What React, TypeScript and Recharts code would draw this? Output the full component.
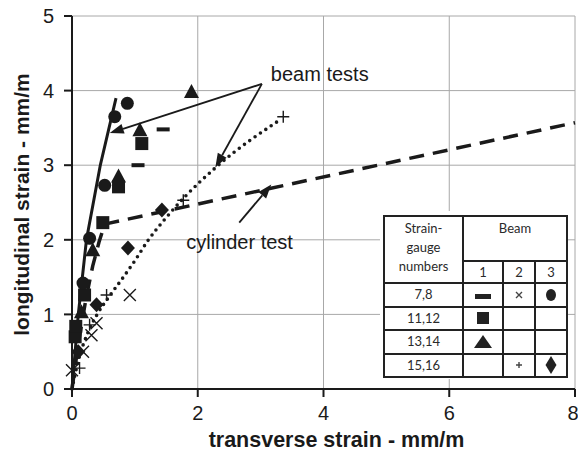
import React from 'react';
import {
  ComposedChart, Line, Scatter, XAxis, YAxis, CartesianGrid,
  ReferenceLine, ReferenceDot,
} from 'recharts';

// ---------- data ----------
const xTicks = [0, 2, 4, 6, 8];
const yTicks = [0, 1, 2, 3, 4, 5];

// curves [transverse, longitudinal]
const beamCurve = [[0, 0], [0.1, 1.0], [0.23, 2.0], [0.45, 3.0], [0.7, 3.9]];
const cylinderCurve = [[0, 0], [0.1, 0.6], [0.22, 1.2], [0.33, 1.65], [0.43, 1.97], [0.52, 2.21], [8, 3.57]];
const dottedCurve = [[0, 0], [0.1, 0.38], [0.25, 0.75], [0.4, 1.0], [0.6, 1.25], [0.8, 1.48], [1.0, 1.72], [1.2, 1.98], [1.5, 2.3], [1.8, 2.58], [2.3, 2.98], [3.33, 3.62]];

// markers
const dashPts = [[1.05, 3.0], [1.45, 3.48]];
const squarePts = [[0.05, 0.7], [0.06, 0.84], [0.2, 1.26], [0.49, 2.23], [0.74, 2.71], [1.11, 3.29]];
const trianglePts = [[0.15, 1.03], [0.33, 1.86], [0.74, 2.85], [1.08, 3.47], [1.9, 3.98]];
const crossPts = [[0, 0.25], [0.175, 0.5], [0.31, 0.72], [0.39, 0.88], [0.92, 1.26]];
const circlePts = [[0.175, 1.42], [0.28, 2.02], [0.52, 2.73], [0.68, 3.65], [0.88, 3.83]];
const plusPts = [[0.12, 0.28], [0.28, 0.86], [0.55, 1.26], [1.77, 2.53], [3.36, 3.65]];
const diamondPts = [[0.1, 0.5], [0.39, 1.13], [0.89, 1.89], [1.43, 2.4]];

// annotations
const beamArrows = [
  [[3.02, 4.09], [0.6, 3.43]],
  [[3.02, 4.09], [2.28, 2.97]],
];
const cylinderArrow = [[2.66, 2.23], [3.17, 2.74]];
const beamLabel = { text: 'beam tests', x: 3.94, y: 4.22 };
const cylinderLabel = { text: 'cylinder test', x: 2.665, y: 1.97 };

// legend table
const gaugeRows = ['7,8', '11,12', '13,14', '15,16'];
const beamCols = ['1', '2', '3'];
const legendSymbols = [
  ['dash', 'x', 'circle'],
  ['square', '', ''],
  ['triangle', '', ''],
  ['', 'plus', 'diamond'],
];

const toObj = (arr: number[][]) => arr.map(([x, y]) => ({ x, y }));

const INK = '#1a1a1a';
const FONT = '"Liberation Sans", Arial, sans-serif';

// ---------- shapes ----------
const DashShape = ({ cx, cy }: any) => <rect x={cx - 6.5} y={cy - 2} width={13} height={4} fill={INK} />;
const SquareShape = ({ cx, cy }: any) => <rect x={cx - 6.5} y={cy - 6.5} width={13} height={13} fill={INK} />;
const TriangleShape = ({ cx, cy }: any) => (
  <polygon points={`${cx},${cy - 8} ${cx + 7.5},${cy + 6} ${cx - 7.5},${cy + 6}`} fill={INK} />
);
const CircleShape = ({ cx, cy }: any) => <circle cx={cx} cy={cy} r={6.5} fill={INK} />;
const CrossShape = ({ cx, cy }: any) => (
  <path d={`M${cx - 6},${cy - 6}L${cx + 6},${cy + 6}M${cx - 6},${cy + 6}L${cx + 6},${cy - 6}`} stroke={INK} strokeWidth={1.4} />
);
const PlusShape = ({ cx, cy }: any) => (
  <path d={`M${cx - 6},${cy}L${cx + 6},${cy}M${cx},${cy - 6}L${cx},${cy + 6}`} stroke={INK} strokeWidth={1.4} />
);
const DiamondShape = ({ cx, cy }: any) => (
  <polygon points={`${cx},${cy - 7.5} ${cx + 7},${cy} ${cx},${cy + 7.5} ${cx - 7},${cy}`} fill={INK} />
);

const ArrowShape = (props: any) => {
  const { x1, y1, x2, y2 } = props;
  if ([x1, y1, x2, y2].some((v) => typeof v !== 'number' || isNaN(v))) return null;
  const ang = Math.atan2(y2 - y1, x2 - x1);
  const L = 14, W = 5;
  const bx = x2 - L * Math.cos(ang), by = y2 - L * Math.sin(ang);
  const p1 = `${bx + W * Math.sin(ang)},${by - W * Math.cos(ang)}`;
  const p2 = `${bx - W * Math.sin(ang)},${by + W * Math.cos(ang)}`;
  return (
    <g>
      <line x1={x1} y1={y1} x2={bx} y2={by} stroke={INK} strokeWidth={1.8} />
      <polygon points={`${x2},${y2} ${p1} ${p2}`} fill={INK} />
    </g>
  );
};

const AnnoText = (props: any) => {
  const { viewBox, text } = props;
  if (!viewBox) return null;
  const cx = viewBox.x + (viewBox.width || 0) / 2;
  const cy = viewBox.y + (viewBox.height || 0) / 2;
  return (
    <text x={cx} y={cy} dy="0.35em" textAnchor="middle" fontSize={20} fontFamily={FONT} fill={INK}>
      {text}
    </text>
  );
};

const XTitle = (props: any) => {
  const { viewBox } = props;
  if (!viewBox) return null;
  return (
    <text x={viewBox.x + viewBox.width / 2 + 13} y={viewBox.y + 58} textAnchor="middle"
      fontSize={21.5} fontWeight="bold" fontFamily={FONT} fill={INK}>
      transverse strain - mm/m
    </text>
  );
};

const YTitle = (props: any) => {
  const { viewBox } = props;
  if (!viewBox) return null;
  const cx = 22;
  const cy = viewBox.y + viewBox.height / 2 + 2;
  return (
    <text x={cx} y={cy} dy="0.35em" textAnchor="middle" transform={`rotate(-90 ${cx} ${cy})`}
      fontSize={21} fontWeight="bold" fontFamily={FONT} fill={INK}>
      longitudinal strain - mm/m
    </text>
  );
};

const LegendSymbol = ({ kind }: { kind: string }) => {
  const s = 20;
  const c = s / 2;
  let el: any = null;
  if (kind === 'dash') el = <rect x={c - 8} y={c - 1} width={16} height={5} fill="#222" />;
  if (kind === 'x') el = <path d={`M${c - 3},${c - 3}L${c + 3},${c + 3}M${c - 3},${c + 3}L${c + 3},${c - 3}`} stroke="#444" strokeWidth={1.4} />;
  if (kind === 'circle') el = <ellipse cx={c} cy={c} rx={5} ry={6} fill="#222" />;
  if (kind === 'square') el = <rect x={c - 6} y={c - 6} width={12} height={12} fill="#222" />;
  if (kind === 'triangle') el = <polygon points={`${c},${c - 7} ${c + 9},${c + 6} ${c - 9},${c + 6}`} fill="#222" />;
  if (kind === 'plus') el = <path d={`M${c - 3},${c}L${c + 3},${c}M${c},${c - 3}L${c},${c + 3}`} stroke="#444" strokeWidth={1.4} />;
  if (kind === 'diamond') el = <polygon points={`${c},${c - 9} ${c + 5.5},${c} ${c},${c + 9} ${c - 5.5},${c}`} fill="#222" />;
  return <svg width={s} height={s} style={{ display: 'block', margin: '0 auto' }}>{el}</svg>;
};

const cellBorder = '2px solid #222';
const tdBase: React.CSSProperties = {
  border: cellBorder, padding: 0, textAlign: 'center', verticalAlign: 'middle',
};

const LegendTable = () => (
  <div style={{ position: 'absolute', left: 380, top: 211, width: 188, height: 168, background: '#fff' }}>
    <table style={{
      position: 'absolute', left: 3, top: 4, width: 183, borderCollapse: 'collapse', tableLayout: 'fixed',
      fontFamily: 'Lato, "Open Sans", sans-serif', fontSize: 13, color: '#2a2a2a', lineHeight: '19px',
    }}>
      <colgroup>
        <col style={{ width: 79 }} />
        <col style={{ width: 40 }} />
        <col style={{ width: 32 }} />
        <col style={{ width: 32 }} />
      </colgroup>
      <tbody>
        <tr style={{ height: 45 }}>
          <td rowSpan={2} style={{ ...tdBase, verticalAlign: 'top', paddingTop: 2 }}>
            Strain-<br />gauge<br />numbers
          </td>
          <td colSpan={3} style={{ ...tdBase, verticalAlign: 'top', paddingTop: 2 }}>Beam</td>
        </tr>
        <tr style={{ height: 22 }}>
          {beamCols.map((b) => <td key={b} style={tdBase}>{b}</td>)}
        </tr>
        {gaugeRows.map((g, i) => (
          <tr key={g} style={{ height: 23.5 }}>
            <td style={tdBase}>{g}</td>
            {legendSymbols[i].map((k, j) => (
              <td key={j} style={tdBase}>{k ? <LegendSymbol kind={k} /> : null}</td>
            ))}
          </tr>
        ))}
      </tbody>
    </table>
  </div>
);

export default function App() {
  return (
    <div style={{ position: 'absolute', left: 0, top: 0, width: 578, height: 454, background: '#fff' }}>
      <ComposedChart width={578} height={454} margin={{ top: 16, right: 3, bottom: 0, left: 0 }}>
        <CartesianGrid stroke="#a8a8a8" strokeWidth={1} horizontal vertical />
        <XAxis
          type="number" dataKey="x" domain={[0, 8]} ticks={xTicks} height={65}
          axisLine={{ stroke: INK, strokeWidth: 2 }} tickLine={{ stroke: INK, strokeWidth: 2 }}
          tickSize={8} tickMargin={9}
          tick={{ fontSize: 20, fontFamily: FONT, fill: INK }}
          label={<XTitle />}
        />
        <YAxis
          type="number" dataKey="y" domain={[0, 5]} ticks={yTicks} width={72}
          axisLine={{ stroke: INK, strokeWidth: 2 }} tickLine={{ stroke: INK, strokeWidth: 2 }}
          tickSize={8} tickMargin={10}
          tick={{ fontSize: 20, fontFamily: FONT, fill: INK }}
          label={<YTitle />}
        />
        <Line data={toObj(dottedCurve)} dataKey="y" type="monotone" dot={false} stroke={INK}
          strokeWidth={3.6} strokeDasharray="0 6.5" strokeLinecap="round" isAnimationActive={false} />
        <Line data={toObj(cylinderCurve)} dataKey="y" type="linear" dot={false} stroke={INK}
          strokeWidth={3.5} strokeDasharray="15 9" isAnimationActive={false} />
        <Line data={toObj(beamCurve)} dataKey="y" type="linear" dot={false} stroke={INK}
          strokeWidth={3} isAnimationActive={false} />

        <Scatter data={toObj(dashPts)} dataKey="y" shape={<DashShape />} isAnimationActive={false} />
        <Scatter data={toObj(squarePts)} dataKey="y" shape={<SquareShape />} isAnimationActive={false} />
        <Scatter data={toObj(trianglePts)} dataKey="y" shape={<TriangleShape />} isAnimationActive={false} />
        <Scatter data={toObj(crossPts)} dataKey="y" shape={<CrossShape />} isAnimationActive={false} />
        <Scatter data={toObj(circlePts)} dataKey="y" shape={<CircleShape />} isAnimationActive={false} />
        <Scatter data={toObj(plusPts)} dataKey="y" shape={<PlusShape />} isAnimationActive={false} />
        <Scatter data={toObj(diamondPts)} dataKey="y" shape={<DiamondShape />} isAnimationActive={false} />

        {beamArrows.map((seg, i) => (
          <ReferenceLine key={`ba${i}`} segment={[{ x: seg[0][0], y: seg[0][1] }, { x: seg[1][0], y: seg[1][1] }]}
            shape={ArrowShape} />
        ))}
        <ReferenceLine segment={[{ x: cylinderArrow[0][0], y: cylinderArrow[0][1] }, { x: cylinderArrow[1][0], y: cylinderArrow[1][1] }]}
          shape={ArrowShape} />
        <ReferenceDot x={beamLabel.x} y={beamLabel.y} r={1} fill="none" stroke="none"
          label={<AnnoText text={beamLabel.text} />} />
        <ReferenceDot x={cylinderLabel.x} y={cylinderLabel.y} r={1} fill="none" stroke="none"
          label={<AnnoText text={cylinderLabel.text} />} />
      </ComposedChart>
      <LegendTable />
    </div>
  );
}
